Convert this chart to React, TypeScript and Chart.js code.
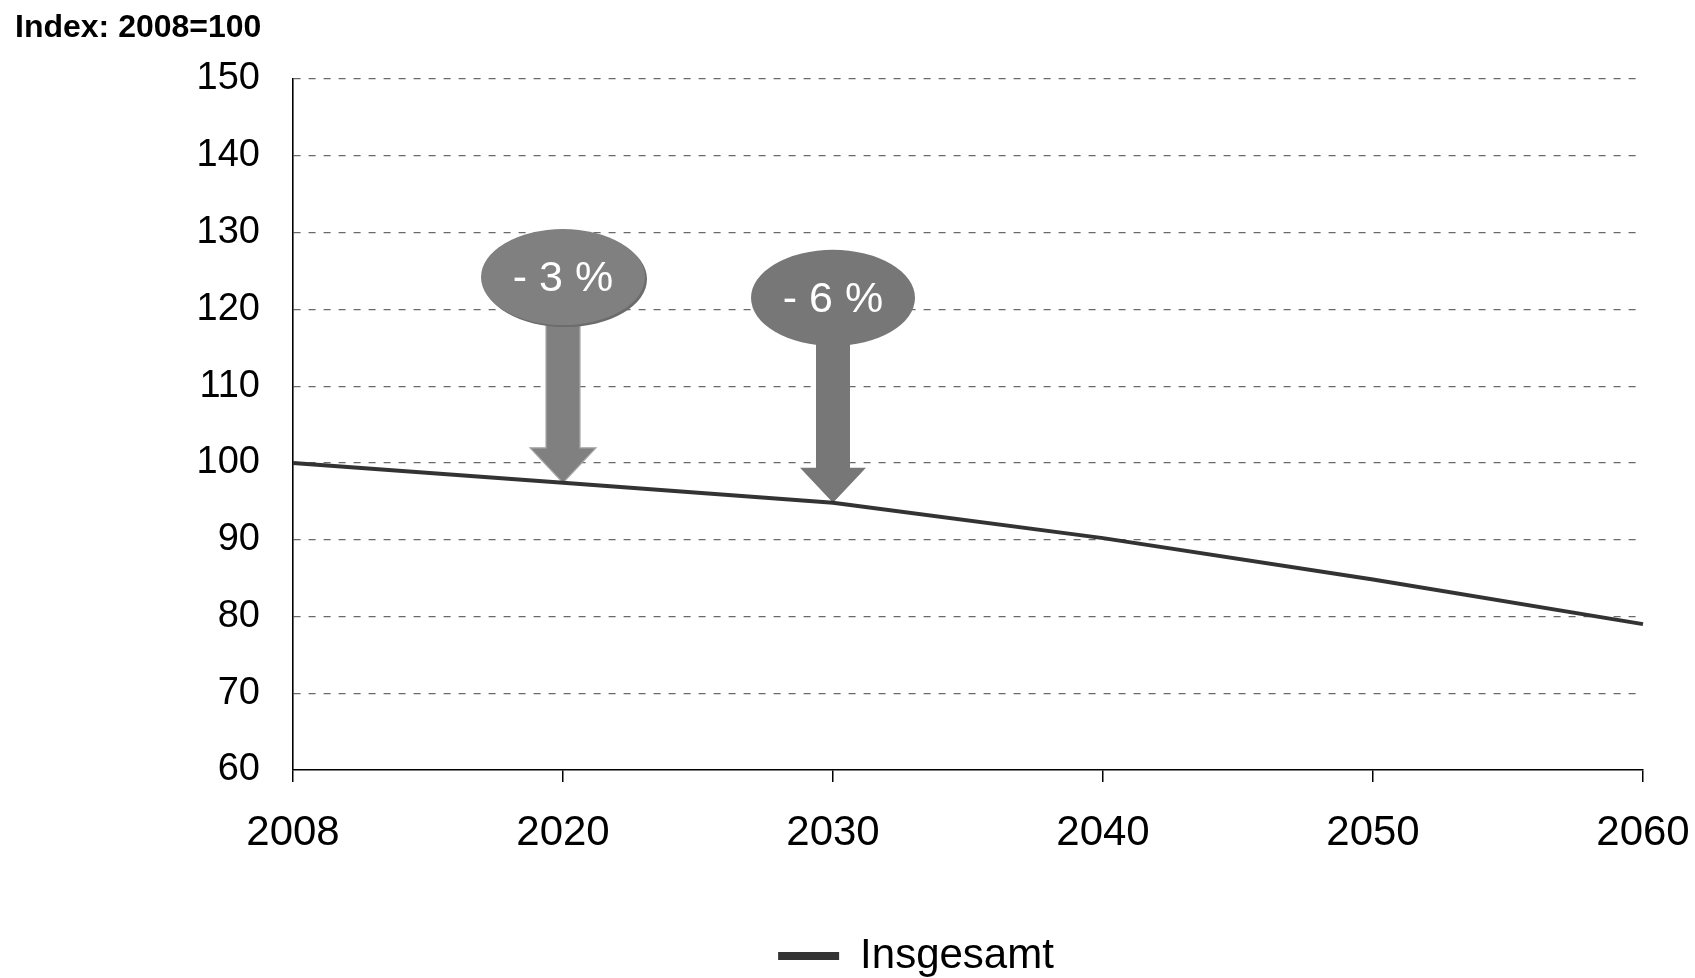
import React, { useEffect, useRef } from "react";
import { Chart, registerables } from "chart.js";

Chart.register(...registerables);

// ---- data ----
const years: string[] = ["2008", "2020", "2030", "2040", "2050", "2060"];
const insgesamt: number[] = [100, 97.4, 94.8, 90.2, 84.8, 79.0];
const seriesLabel = "Insgesamt";
const axisTitle = "Index: 2008=100";
const calloutLabels: string[] = ["- 3 %", "- 6 %"];
const calloutIndices: number[] = [1, 2];
const yMin = 60;
const yMax = 150;
const yStep = 10;

const FONT = "'Liberation Sans', Arial, Helvetica, sans-serif";

// ---- plugins ----
const calloutPlugin = {
  id: "callouts",
  beforeDatasetsDraw(chart: any) {
    const { ctx, scales } = chart;
    const x = scales.x;
    const y = scales.y;
    const styles = [
      { center: 124.2, fill: "#808080", shadow: "#6c6c6c", edge: "#a8a8a8" },
      { center: 121.5, fill: "#777777", shadow: null, edge: null },
    ];
    calloutIndices.forEach((idx, i) => {
      const st = styles[i];
      const px = x.getPixelForValue(idx);
      const tipY = y.getPixelForValue(insgesamt[idx]);
      const cY = y.getPixelForValue(st.center);
      const headH = 35;
      const headHalf = 33;
      const shaftHalf = 17;
      const rx = 82;
      const ry = 48;
      ctx.save();
      // arrow
      ctx.beginPath();
      ctx.moveTo(px - shaftHalf, cY);
      ctx.lineTo(px + shaftHalf, cY);
      ctx.lineTo(px + shaftHalf, tipY - headH);
      ctx.lineTo(px + headHalf, tipY - headH);
      ctx.lineTo(px, tipY);
      ctx.lineTo(px - headHalf, tipY - headH);
      ctx.lineTo(px - shaftHalf, tipY - headH);
      ctx.closePath();
      ctx.fillStyle = st.fill;
      ctx.fill();
      if (st.edge) {
        ctx.lineWidth = 1.2;
        ctx.strokeStyle = st.edge;
        ctx.stroke();
      }
      // ellipse
      if (st.shadow) {
        ctx.beginPath();
        ctx.ellipse(px + 2, cY + 2, rx, ry, 0, 0, Math.PI * 2);
        ctx.fillStyle = st.shadow;
        ctx.fill();
      }
      ctx.beginPath();
      ctx.ellipse(px, cY, rx, ry, 0, 0, Math.PI * 2);
      ctx.fillStyle = st.fill;
      ctx.fill();
      // label
      ctx.fillStyle = "#ffffff";
      ctx.font = `43px ${FONT}`;
      ctx.textAlign = "center";
      ctx.textBaseline = "middle";
      ctx.fillText(calloutLabels[i], px, cY + 2);
      ctx.restore();
    });
  },
};

const titlePlugin = {
  id: "axisTitleTop",
  afterDraw(chart: any) {
    const { ctx } = chart;
    ctx.save();
    ctx.font = `bold 32px ${FONT}`;
    ctx.fillStyle = "#000000";
    ctx.textAlign = "left";
    ctx.textBaseline = "alphabetic";
    ctx.fillText(axisTitle, 15, 37);
    ctx.restore();
  },
};

export default function App() {
  const canvasRef = useRef<HTMLCanvasElement | null>(null);

  useEffect(() => {
    if (!canvasRef.current) return;
    const chart = new Chart(canvasRef.current, {
      type: "line",
      data: {
        labels: years,
        datasets: [
          {
            label: seriesLabel,
            data: insgesamt,
            borderColor: "#333333",
            backgroundColor: "#333333",
            borderWidth: 4,
            pointRadius: 0,
            tension: 0,
            fill: false,
          },
        ],
      },
      options: {
        responsive: false,
        animation: false,
        layout: { padding: { top: 79, left: 189, right: 52, bottom: 0 } },
        plugins: {
          title: { display: false },
          tooltip: { enabled: false },
          legend: {
            display: true,
            position: "bottom",
            labels: {
              boxWidth: 61,
              boxHeight: 8,
              padding: 2,
              color: "#000000",
              font: { family: FONT, size: 42 },
              generateLabels: () => [
                {
                  text: seriesLabel,
                  fillStyle: "#333333",
                  strokeStyle: "#333333",
                  lineWidth: 0,
                  hidden: false,
                  datasetIndex: 0,
                } as any,
              ],
            },
          },
        },
        scales: {
          x: {
            type: "category",
            offset: false,
            afterFit: (scale: any) => {
              scale.height = 163;
              scale.paddingRight = 0;
              scale.paddingLeft = 0;
            },
            grid: {
              display: true,
              drawOnChartArea: false,
              drawTicks: true,
              tickLength: 12,
              color: "#000000",
              lineWidth: 1.5,
            },
            border: { display: true, color: "#000000", width: 1.5 },
            ticks: {
              color: "#000000",
              font: { family: FONT, size: 42 },
              padding: 26,
              maxRotation: 0,
              autoSkip: false,
            },
          },
          y: {
            min: yMin,
            max: yMax,
            afterFit: (scale: any) => {
              scale.width = 104;
            },
            grid: {
              display: true,
              drawTicks: false,
              color: (c: any) => (c.tick && c.tick.value === yMin ? "rgba(0,0,0,0)" : "#6a6a6a"),
              lineWidth: 1.2,
            },
            border: { display: true, color: "#000000", width: 1.6, dash: [7, 8] },
            ticks: {
              stepSize: yStep,
              color: "#000000",
              font: { family: FONT, size: 38 },
              padding: 33,
            },
          },
        },
      },
      plugins: [calloutPlugin, titlePlugin],
    });
    return () => chart.destroy();
  }, []);

  return (
    <div
      style={{
        position: "fixed",
        left: 0,
        top: 0,
        width: 1695,
        height: 978,
        overflow: "hidden",
        background: "#ffffff",
      }}
    >
      <canvas ref={canvasRef} width={1695} height={987} style={{ display: "block" }} />
    </div>
  );
}
